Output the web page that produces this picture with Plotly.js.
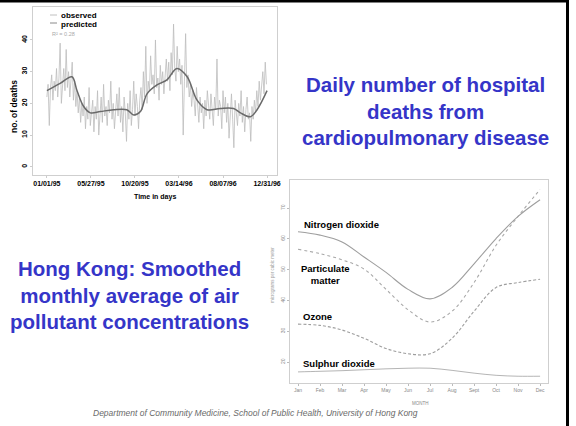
<!DOCTYPE html>
<html><head><meta charset="utf-8">
<script src="https://cdn.plot.ly/plotly-3.0.1.min.js"></script>
<style>html,body{margin:0;padding:0;background:#fff;}#chart{width:576px;height:426px;}</style>
</head><body><div id="chart"></div>
<script>
// ---------- Data: daily hospital deaths (sampled every 4 days) ----------
const observedStart = [1995, 0, 1];
const observedStepDays = 4;
const observedDeaths = [
  22, 26, 13, 25, 29, 21, 27, 24, 31, 22,
  28, 39, 20, 26, 31, 24, 37, 25, 30, 22,
  29, 33, 21, 27, 19, 24, 17, 22, 14, 20,
  16, 22, 12, 19, 15, 25, 13, 18, 21, 11,
  19, 15, 24, 10, 18, 22, 14, 26, 16, 19,
  13, 21, 17, 27, 15, 20, 12, 19, 23, 16,
  25, 14, 19, 11, 22, 17, 8, 20, 15, 24,
  13, 18, 27, 16, 23, 19, 12, 21, 25, 18,
  30, 22, 38, 20, 27, 24, 35, 26, 29, 23,
  40, 25, 28, 21, 32, 26, 30, 23, 29, 34,
  27, 33, 24, 36, 29, 45, 31, 27, 38, 30,
  34, 26, 32, 10, 27, 42, 25, 29, 22, 26,
  19, 24, 21, 16, 25, 18, 14, 22, 17, 20,
  12, 21, 16, 24, 18, 15, 23, 19, 13, 22,
  18, 34, 16, 21, 19, 12, 24, 17, 22, 14,
  20, 9, 18, 23, 15, 6, 21, 17, 13, 20,
  16, 24, 14, 19, 11, 18, 22, 15, 17, 8,
  19, 15, 21, 17, 24, 19, 27, 21, 25, 30,
  23, 33, 26
];
const predictedDates = ['1995-01-01','1995-02-14','1995-03-25','1995-04-11','1995-05-03','1995-05-25',
  '1995-06-27','1995-08-10','1995-09-23','1995-10-16','1995-11-07','1995-11-29','1996-01-01',
  '1996-02-03','1996-03-07','1996-04-10','1996-05-13','1996-06-15','1996-07-29','1996-09-11',
  '1996-10-04','1996-11-06','1996-11-28','1996-12-31'];
const predictedDeaths = [24, 26.3, 28.4, 24, 19, 17, 17.4, 18, 18, 16.3, 17.4, 23, 25.8,
  27.4, 31, 28.4, 21, 18, 18.4, 18.4, 17, 15.8, 18, 24];
const dateTickVals = ['1995-01-01','1995-05-27','1995-10-20','1996-03-14','1996-08-07','1996-12-31'];
const dateTickText = ['01/01/95','05/27/95','10/20/95','03/14/96','08/07/96','12/31/96'];
const deathTickVals = [0, 10, 20, 30, 40];

// ---------- Data: monthly pollutant concentrations ----------
const monthNum = [1, 2, 3, 4, 5, 6, 7, 8, 9, 10, 11, 12];
const monthLabels = ['Jan','Feb','Mar','Apr','May','Jun','Jul','Aug','Sept','Oct','Nov','Dec'];
const nitrogenDioxide = [62.3, 61.2, 59.0, 54.1, 49.1, 43.6, 40.5, 44.2, 51.9, 60.1, 67.3, 72.7];
const particulate     = [56.6, 55.2, 53.2, 50.2, 43.6, 37.0, 33.0, 36.5, 45.8, 57.9, 67.3, 76.0];
const ozone           = [32.3, 31.9, 30.4, 27.7, 24.4, 22.7, 22.7, 27.7, 36.5, 44.2, 45.8, 46.9];
const sulphurDioxide  = [16.8, 17.0, 17.2, 17.5, 17.8, 18.0, 18.0, 17.3, 16.4, 15.7, 15.4, 15.4];
const concTickVals = [20, 30, 40, 50, 60, 70];

// ---------- Build ----------
const observedDates = observedDeaths.map((_, i) =>
  new Date(Date.UTC(observedStart[0], observedStart[1], observedStart[2] + observedStepDays * i))
    .toISOString().slice(0, 10));

const W = 576, H = 426;
const px = x => x / W, py = y => 1 - y / H;
const FF = 'Liberation Sans, Arial, Helvetica, sans-serif';
const BLUE = '#3535c8';

const traces = [
  {x: observedDates, y: observedDeaths, type: 'scatter', mode: 'lines', name: 'observed',
   line: {color: '#bdbdbd', width: 0.8}, xaxis: 'x', yaxis: 'y', hoverinfo: 'skip'},
  {x: predictedDates, y: predictedDeaths, type: 'scatter', mode: 'lines', name: 'predicted',
   line: {color: '#6a6a6a', width: 1.5, shape: 'spline', smoothing: 1}, xaxis: 'x', yaxis: 'y'},
  {x: monthNum, y: nitrogenDioxide, type: 'scatter', mode: 'lines', name: 'Nitrogen dioxide',
   line: {color: '#9e9e9e', width: 1.1, shape: 'spline'}, xaxis: 'x2', yaxis: 'y2'},
  {x: monthNum, y: particulate, type: 'scatter', mode: 'lines', name: 'Particulate matter',
   line: {color: '#a8a8a8', width: 1.1, shape: 'spline', dash: 'dot'}, xaxis: 'x2', yaxis: 'y2'},
  {x: monthNum, y: ozone, type: 'scatter', mode: 'lines', name: 'Ozone',
   line: {color: '#9e9e9e', width: 1.1, shape: 'spline', dash: '3px,2px'}, xaxis: 'x2', yaxis: 'y2'},
  {x: monthNum, y: sulphurDioxide, type: 'scatter', mode: 'lines', name: 'Sulphur dioxide',
   line: {color: '#b5b5b5', width: 1.0, shape: 'spline'}, xaxis: 'x2', yaxis: 'y2'}
];

const boldFont = (s, c) => ({family: FF, size: s, color: c || '#000', weight: 'bold'});

const layout = {
  width: W, height: H,
  margin: {l: 0, r: 0, t: 0, b: 0},
  paper_bgcolor: '#fff', plot_bgcolor: '#fff',
  showlegend: false,
  font: {family: FF},
  xaxis: {
    domain: [px(33), px(277)], anchor: 'y', type: 'date',
    range: ['1994-11-16', '1997-02-02'],
    tickvals: dateTickVals, ticktext: dateTickText,
    tickfont: boldFont(7), ticks: 'outside', ticklen: 2, tickcolor: '#ccc',
    showline: true, mirror: true, linecolor: '#cfcfcf', linewidth: 1,
    showgrid: false, zeroline: false
  },
  yaxis: {
    domain: [py(175), py(7)], anchor: 'x',
    range: [-2.6, 50.4], tickvals: deathTickVals,
    tickangle: -90, tickfont: boldFont(7), ticks: 'outside', ticklen: 2, tickcolor: '#ccc',
    showline: true, mirror: true, linecolor: '#cfcfcf', linewidth: 1,
    showgrid: false, zeroline: false
  },
  xaxis2: {
    domain: [px(290), px(548)], anchor: 'y2',
    range: [0.636, 12.36], tickvals: monthNum, ticktext: monthLabels,
    tickfont: {family: FF, size: 5, color: '#888'}, ticks: 'outside', ticklen: 2, tickcolor: '#bbb',
    showline: true, mirror: true, linecolor: '#cfcfcf', linewidth: 1,
    showgrid: false, zeroline: false
  },
  yaxis2: {
    domain: [py(383), py(180)], anchor: 'x2',
    range: [13.2, 79.1], tickvals: concTickVals,
    tickangle: -90, tickfont: {family: FF, size: 5, color: '#888'}, ticks: 'outside', ticklen: 2, tickcolor: '#bbb',
    showline: true, mirror: true, linecolor: '#cfcfcf', linewidth: 1,
    showgrid: false, zeroline: false
  },
  annotations: [
    {xref: 'paper', yref: 'paper', x: px(425), y: py(111), xanchor: 'center', yanchor: 'middle',
     text: 'Daily number of hospital<br>deaths from<br>cardiopulmonary disease',
     showarrow: false, font: boldFont(20.5, BLUE), align: 'center'},
    {xref: 'paper', yref: 'paper', x: px(129), y: py(295), xanchor: 'center', yanchor: 'middle',
     text: 'Hong Kong: Smoothed<br>monthly average of air<br>pollutant concentrations',
     showarrow: false, font: boldFont(20.5, BLUE), align: 'center'},
    {xref: 'paper', yref: 'paper', x: px(255), y: py(413), xanchor: 'center', yanchor: 'middle',
     text: 'Department of Community Medicine, School of Public Health, University of Hong Kong',
     showarrow: false, font: {family: FF, size: 8.5, color: '#6a6a6a', style: 'italic'}},
    {xref: 'paper', yref: 'paper', x: px(14), y: py(107), xanchor: 'center', yanchor: 'middle',
     text: 'no. of deaths', textangle: -90, showarrow: false, font: boldFont(8.5)},
    {xref: 'paper', yref: 'paper', x: px(155), y: py(197), xanchor: 'center', yanchor: 'middle',
     text: 'Time in days', showarrow: false, font: boldFont(7)},
    {xref: 'paper', yref: 'paper', x: px(59), y: py(16), xanchor: 'left', yanchor: 'middle',
     text: 'observed', showarrow: false, font: boldFont(8)},
    {xref: 'paper', yref: 'paper', x: px(59), y: py(24), xanchor: 'left', yanchor: 'middle',
     text: 'predicted', showarrow: false, font: boldFont(8)},
    {xref: 'paper', yref: 'paper', x: px(50), y: py(34), xanchor: 'left', yanchor: 'middle',
     text: 'R² = 0.28', showarrow: false, font: {family: FF, size: 5.5, color: '#aaa'}},
    {xref: 'paper', yref: 'paper', x: px(302), y: py(225), xanchor: 'left', yanchor: 'middle',
     text: 'Nitrogen dioxide', showarrow: false, font: boldFont(9.5)},
    {xref: 'paper', yref: 'paper', x: px(325), y: py(274), xanchor: 'center', yanchor: 'middle',
     text: 'Particulate<br>matter', showarrow: false, font: boldFont(9.5), align: 'center'},
    {xref: 'paper', yref: 'paper', x: px(301), y: py(316), xanchor: 'left', yanchor: 'middle',
     text: 'Ozone', showarrow: false, font: boldFont(9.5)},
    {xref: 'paper', yref: 'paper', x: px(301), y: py(363), xanchor: 'left', yanchor: 'middle',
     text: 'Sulphur dioxide', showarrow: false, font: boldFont(9.5)},
    {xref: 'paper', yref: 'paper', x: px(420), y: py(403), xanchor: 'center', yanchor: 'middle',
     text: 'MONTH', showarrow: false, font: {family: FF, size: 4.5, color: '#888'}},
    {xref: 'paper', yref: 'paper', x: px(272), y: py(275), xanchor: 'center', yanchor: 'middle',
     text: 'micrograms per cubic meter', textangle: -90, showarrow: false,
     font: {family: FF, size: 4.5, color: '#999'}}
  ],
  shapes: [
    {type: 'rect', xref: 'paper', yref: 'paper', x0: 0, x1: px(569), y0: py(2.5), y1: 1,
     fillcolor: '#000', line: {width: 0}},
    {type: 'rect', xref: 'paper', yref: 'paper', x0: px(566), x1: px(569), y0: 0, y1: 1,
     fillcolor: '#000', line: {width: 0}},
    {type: 'line', xref: 'paper', yref: 'paper', x0: px(50), x1: px(57), y0: py(15), y1: py(15),
     line: {color: '#c0c0c0', width: 1}},
    {type: 'line', xref: 'paper', yref: 'paper', x0: px(50), x1: px(57), y0: py(23), y1: py(23),
     line: {color: '#8a8a8a', width: 1}}
  ]
};

Plotly.newPlot('chart', traces, layout, {displayModeBar: false, staticPlot: true});
</script>
</body></html>
